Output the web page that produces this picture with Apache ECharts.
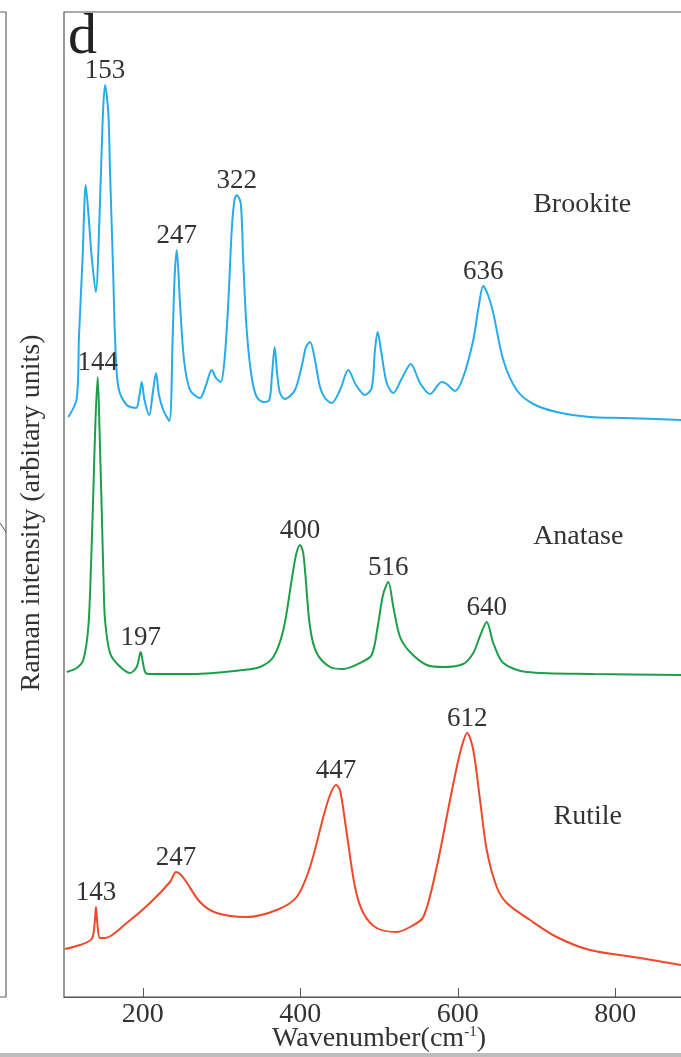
<!DOCTYPE html>
<html>
<head>
<meta charset="utf-8">
<script src="https://cdn.jsdelivr.net/npm/echarts@6/dist/echarts.min.js"></script>
<style>
  html, body { margin: 0; padding: 0; background: #fff; }
  #main { width: 681px; height: 1057px; }
</style>
</head>
<body>
<div id="main"></div>
<script>
// wavenumber (cm-1), intensity (arbitrary units, curves stacked with offsets)
var brookite = [
  [105.5, 580], [116.1, 598], [119.0, 660], [123.5, 737], [127.6, 812], [131.1, 782],
  [135.2, 740], [140.3, 705], [145.7, 794], [149.1, 877], [152.1, 912], [156.3, 884],
  [158.4, 827], [162.6, 720], [164.8, 660], [169.0, 610], [179.6, 592], [191.4, 589],
  [195.9, 602], [198.7, 615], [202.2, 597], [208.3, 582], [212.4, 602], [216.8, 624],
  [220.6, 602], [226.1, 587], [233.7, 576], [238.0, 660], [240.3, 717], [243.1, 747],
  [247.3, 694], [252.4, 637], [260.0, 607], [272.7, 599], [280.3, 612], [287.6, 627],
  [293.0, 619], [299.0, 615], [303.8, 637], [308.6, 694], [313.0, 767], [316.5, 797],
  [319.3, 802], [324.4, 794], [327.7, 734], [332.0, 667], [338.3, 620], [344.7, 600],
  [353.1, 595], [360.7, 597], [364.1, 622], [367.5, 650], [370.8, 622], [374.3, 604],
  [380.6, 598], [393.3, 607], [402.2, 632], [407.3, 650], [412.4, 655], [417.5, 642],
  [425.1, 610], [431.4, 599], [439.9, 594], [450.5, 607], [461.0, 627], [470.8, 612],
  [482.2, 602], [490.7, 609], [494.9, 647], [498.3, 665], [502.5, 647], [509.8, 614],
  [518.2, 604], [529.2, 619], [540.3, 633], [552.1, 614], [564.8, 603], [579.6, 615],
  [586.0, 613], [596.5, 606], [607.0, 620], [619.7, 657], [626.3, 689], [632.4, 711],
  [638.4, 702], [645.1, 684], [657.8, 637], [674.8, 607], [695.9, 593], [725.6, 585],
  [767.9, 580], [810.2, 579], [883.5, 577]
];
var anatase = [
  [103.4, 325], [116.1, 329], [124.5, 337], [130.9, 370], [134.3, 432], [137.2, 504],
  [140.0, 577], [142.8, 620], [145.1, 567], [147.9, 487], [150.2, 417], [152.1, 377],
  [158.4, 344], [169.0, 332], [183.8, 324], [192.3, 330], [197.4, 345], [200.3, 334],
  [202.9, 325], [207.0, 323], [264.2, 323], [327.7, 327], [348.9, 330], [365.8, 340],
  [378.5, 367], [389.1, 417], [394.6, 442], [399.7, 452], [403.5, 445], [406.0, 427],
  [412.4, 370], [420.9, 344], [437.8, 330], [454.7, 328], [475.9, 334], [490.7, 342],
  [499.1, 374], [505.1, 402], [511.8, 415], [518.2, 390], [526.7, 360], [539.4, 345],
  [560.6, 332], [581.7, 330], [607.0, 333], [619.7, 344], [628.3, 361], [636.8, 375],
  [645.1, 354], [657.8, 334], [687.5, 325], [772.1, 323], [883.5, 322]
];
var rutile = [
  [101.3, 48], [120.3, 52], [135.2, 58], [138.7, 72], [140.6, 90], [142.5, 72],
  [145.7, 59], [152.1, 59], [179.6, 74], [209.2, 94], [234.6, 115], [242.2, 125],
  [247.3, 123], [253.7, 117], [272.7, 95], [293.9, 84], [332.0, 80], [370.1, 87],
  [395.5, 100], [412.4, 130], [429.3, 180], [437.8, 202], [445.4, 212], [450.5, 207],
  [459.0, 164], [469.5, 110], [480.1, 84], [497.1, 69], [522.5, 65], [539.4, 70],
  [556.3, 80], [573.3, 130], [590.2, 197], [602.9, 244], [612.1, 264], [619.7, 247],
  [628.3, 197], [636.8, 147], [649.5, 110], [662.2, 94], [691.7, 77], [725.6, 60],
  [767.9, 47], [831.4, 39], [883.5, 32]
];

// labelled peak positions
var brookitePeaks = [153, 247, 322, 636];
var anatasePeaks = [144, 197, 400, 516, 640];
var rutilePeaks = [143, 247, 447, 612];

var xTicks = [200, 400, 600, 800];

var serif = "'Liberation Serif', 'Times New Roman', serif";

// find the top of the curve near a labelled wavenumber
function peakPoints(data, peaks) {
  return peaks.map(function (p) {
    var best = null;
    for (var i = 0; i < data.length; i++) {
      if (Math.abs(data[i][0] - p) <= 10 && (!best || data[i][1] > best[1])) best = data[i];
    }
    return { name: String(p), coord: best };
  });
}

function makeSeries(name, data, peaks, color, namePos) {
  var marks = peakPoints(data, peaks);
  marks.push({
    name: name, coord: namePos,
    label: { position: 'inside', fontSize: 28 }
  });
  return {
    name: name,
    type: 'line',
    data: data,
    smooth: 0.3,
    showSymbol: false,
    lineStyle: { color: color, width: 2 },
    itemStyle: { color: color },
    markPoint: {
      silent: true,
      symbol: 'circle',
      symbolSize: 0,
      itemStyle: { color: 'transparent' },
      label: {
        show: true,
        position: 'top',
        distance: 1,
        formatter: '{b}',
        fontFamily: serif,
        fontSize: 27,
        color: '#333'
      },
      data: marks
    }
  };
}

function setOption(chart) {
  var option = {
    animation: false,
    backgroundColor: '#fff',
    grid: {
      show: true,
      left: 64,
      top: 12,
      width: 630,
      bottom: 60,
      outerBoundsMode: 'none',
      containLabel: false,
      borderColor: '#555',
      borderWidth: 1.2
    },
    xAxis: {
      type: 'value',
      min: 100,
      max: 900,
      axisLine: { show: true, lineStyle: { color: '#555', width: 1.2 } },
      axisTick: { show: true, inside: true, length: 9, customValues: xTicks, lineStyle: { color: '#555' } },
      axisLabel: { customValues: xTicks, fontFamily: serif, fontSize: 28, color: '#333', margin: 4 },
      splitLine: { show: false },
      name: 'Wavenumber(cm{sup|-1})',
      nameLocation: 'middle',
      nameGap: 28,
      nameMoveOverlap: false,
      nameTextStyle: {
        fontFamily: serif, fontSize: 28, color: '#333',
        rich: { sup: { fontFamily: serif, fontSize: 15, color: '#333', verticalAlign: 'top', padding: [0, 0, 12, 0] } }
      }
    },
    yAxis: {
      type: 'value',
      min: 0,
      max: 985,
      show: false
    },
    series: [
      makeSeries('Brookite', brookite, brookitePeaks, '#27abec', [758, 792]),
      makeSeries('Anatase', anatase, anatasePeaks, '#1d9f4a', [753, 460]),
      makeSeries('Rutile', rutile, rutilePeaks, '#f0482a', [765, 180])
    ],
    graphic: [
      { type: 'text', left: 68, top: 9, style: { text: 'd', fontFamily: serif, fontSize: 58, fill: '#222' } },
      {
        type: 'text', x: 32, y: 513, rotation: Math.PI / 2,
        style: { text: 'Raman intensity (arbitary units)', fontFamily: serif, fontSize: 28, fill: '#333', align: 'center', verticalAlign: 'middle' }
      },
      // edge of the neighbouring panel
      { type: 'polyline', shape: { points: [[0, 12], [6, 12], [6, 997], [0, 997]] }, style: { stroke: '#666', lineWidth: 1.2, fill: null } },
      { type: 'line', shape: { x1: 0, y1: 523, x2: 6, y2: 532 }, style: { stroke: '#555', lineWidth: 1 } },
      { type: 'rect', shape: { x: 0, y: 1053, width: 681, height: 4 }, style: { fill: '#bdbdbd' } }
    ]
  };
  chart.setOption(option);
  return chart;
}

var chart = echarts.init(document.getElementById('main'), null, { renderer: 'canvas' });
setOption(chart);
</script>
</body>
</html>
